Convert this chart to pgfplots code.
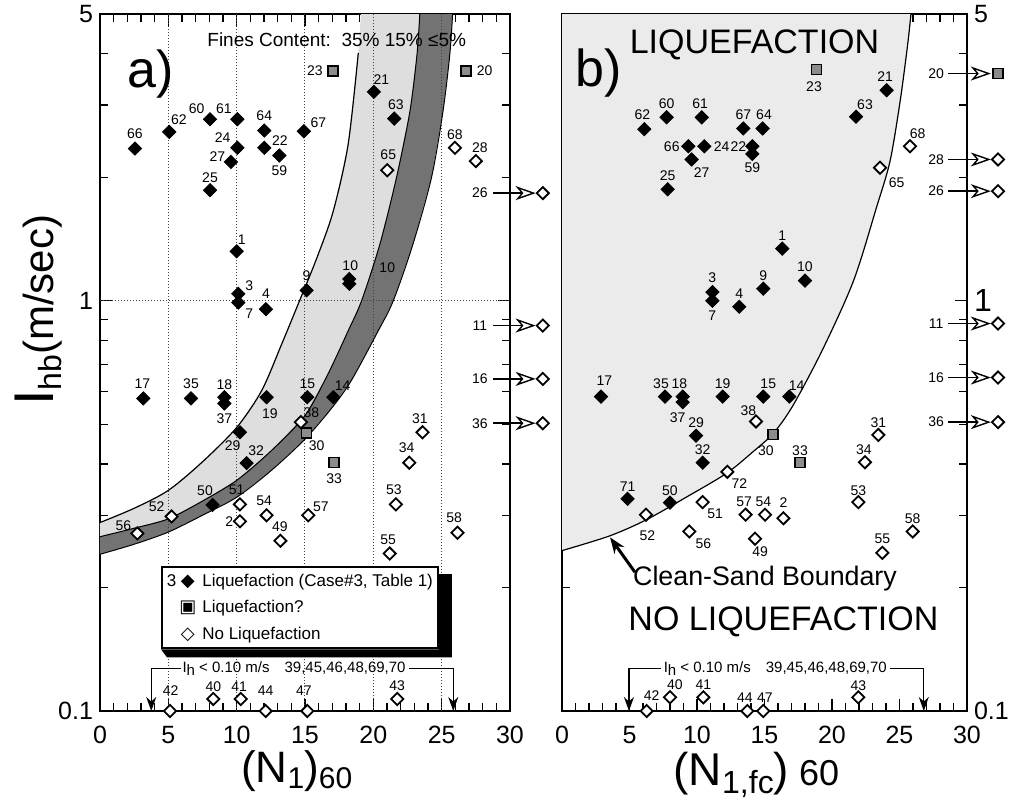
\documentclass[border=0pt]{standalone}
\usepackage{fontspec}
\setmainfont{Liberation Sans}
\newfontfamily\symfont{DejaVu Sans}
\usepackage{pgfplots}
\usepackage{pgfplotstable}
\pgfplotsset{compat=1.18}
\usetikzlibrary{arrows.meta}

\newcommand{\fs}[1]{\fontsize{#1}{#1}\selectfont}

% ---------------- boundary curves, panel a ----------------
% 35 % fines
\pgfplotstableread{
x     y
0     0.288
2.5   0.312
5     0.345
7.5   0.405
10    0.491
11.83 0.604
13.3  0.785
14.6  1.0
15.9  1.28
17.07 1.655
18.16 2.41
18.9  4.02
}\curveAa
% 15 % fines
\pgfplotstableread{
x     y
0     0.266
2.5   0.279
5     0.294
7.5   0.325
10    0.365
12.5  0.43
15    0.525
16.7  0.665
18.16 0.845
19.14 1.0
20.48 1.374
21.7  2.0
22.68 2.9
23.2  4.0
23.4  5
}\curveBa
% <=5 % fines (clean sand)
\pgfplotstableread{
x     y
0     0.241
2.5   0.255
5     0.273
7.5   0.300
10    0.332
12.5  0.385
15    0.46
17    0.55
18.4  0.64
20.36 0.845
21.46 1.0
22.9  1.374
24.26 2.0
25.1  2.9
25.6  4.0
25.8  5
}\curveCa
% band between the 35 % and 15 % boundaries
\pgfplotstableread{
x     y
0     0.288
2.5   0.312
5     0.345
7.5   0.405
10    0.491
11.83 0.604
13.3  0.785
14.6  1.0
15.9  1.28
17.07 1.655
18.16 2.41
18.9  4.02
19.1  5
23.4  5
23.2  4.0
22.68 2.9
21.7  2.0
20.48 1.374
19.14 1.0
18.16 0.845
16.7  0.665
15    0.525
12.5  0.43
10    0.365
7.5   0.325
5     0.294
2.5   0.279
0     0.266
}\bandAB
% band between the 15 % and <=5 % boundaries
\pgfplotstableread{
x     y
0     0.266
2.5   0.279
5     0.294
7.5   0.325
10    0.365
12.5  0.43
15    0.525
16.7  0.665
18.16 0.845
19.14 1.0
20.48 1.374
21.7  2.0
22.68 2.9
23.2  4.0
23.4  5
25.8  5
25.6  4.0
25.1  2.9
24.26 2.0
22.9  1.374
21.46 1.0
20.36 0.845
18.4  0.64
17    0.55
15    0.46
12.5  0.385
10    0.332
7.5   0.300
5     0.273
2.5   0.255
0     0.241
}\bandBC
% ---------------- clean-sand boundary, panel b ----------------
\pgfplotstableread{
x     y
0     0.246
3.5   0.267
6.2   0.292
9.2   0.332
12.2  0.38
14.2  0.43
15.65 0.475
17.1  0.555
19.3  0.76
21.6  1.12
23.3  1.69
24.3  2.19
25.05 3.07
25.6  4.2
25.85 5
}\curveCb
% liquefaction side of the boundary
\pgfplotstableread{
x     y
0     0.246
3.5   0.267
6.2   0.292
9.2   0.332
12.2  0.38
14.2  0.43
15.65 0.475
17.1  0.555
19.3  0.76
21.6  1.12
23.3  1.69
24.3  2.19
25.05 3.07
25.6  4.2
25.85 5
0     5
}\regionLiq

% ---------------- (a) corrected blow count (N1)60 ----------------
\pgfplotstableread{
x     y      lab dx    dy
2.56  2.35   66  0     7.2
5.07  2.58   62  4.8   6.2
8.05  2.77   60  -6.7  5.5
10.05 2.77   61  -6.7  5.5
10.05 2.36   24  -7.3  5
9.58  2.18   27  -6.8  2.8
8.05  1.86   25  0     6.3
12.02 2.60   64  0     7.2
12.02 2.36   22  7.8   3.7
13.12 2.26   59  0     -7.5
14.92 2.59   67  7.2   4.2
10.0  1.32   1   2.5   5.7
20.04 3.23   21  3.8   6.2
21.53 2.78   63  0.8   6.8
10.12 1.04   3   5.5   3.8
10.12 0.99   7   5.5   -5.5
12.14 0.954  4   0     7.5
15.12 1.06   9   0     7.5
18.24 1.13   10  0.5   6.5
18.24 1.10   10  19    8
3.17  0.578  17  -0.5  7.5
6.66  0.578  35  0     7.2
9.1   0.582  18  0     6.2
9.1   0.562  37  0     -7.5
12.19 0.582  19  1.7   -8
15.17 0.582  15  0     6.7
17.07 0.582  14  4.7   5.8
10.24 0.478  29  -3.7  -6.7
10.73 0.402  32  4.7   6
8.24  0.318  50  -3.8  7.2
}\liqA
\pgfplotstableread{
x     y      lab dx    dy
17.07 3.63   23  -9.2  0
26.8  3.63   20  9.2   0
15.12 0.476  30  5     -6.3
17.14 0.403  33  0     -8
}\uncA
\pgfplotstableread{
x     y      lab dx    dy
21.02 2.08   65  0.5   7.8
25.97 2.36   68  0     6.7
27.5  2.19   28  2     6.7
14.7  0.506  38  5.3   4.5
23.6  0.478  31  -1.3  6.7
22.63 0.403  34  -1.3  7.3
21.65 0.319  53  -1    7.5
26.16 0.272  58  -1.7  7.3
21.2  0.242  55  -0.8  7
10.24 0.319  51  -1.7  7.3
10.24 0.290  2   -5.3  0
12.19 0.30   54  -1.2  7.2
13.2  0.26   49  -0.3  7.2
15.24 0.30   57  6.3   4.2
5.24  0.298  52  -7.5  4.7
2.73  0.271  56  -7    3.8
5.12  0.1    42  0.3   10.3
8.29  0.107  40  0     6.3
10.3  0.107  41  -0.8  6.3
12.12 0.1    44  0     10
15.17 0.1    47  -1.7  10
21.75 0.107  43  0     6.5
32.4  1.83   26  -31.5 0
32.4  0.87   11  -31.5 0
32.4  0.645  16  -31.5 0
32.4  0.503  36  -31.5 0
}\nolA

% ---------------- (b) fines-corrected blow count ----------------
\pgfplotstableread{
x     y      lab dx    dy
24.05 3.26   21  -0.8  6.7
21.78 2.81   63  4.5   5.8
6.1   2.62   62  -1    7
7.75  2.80   60  0     7
10.35 2.80   61  -0.8  7
13.43 2.63   67  0     6.7
14.86 2.63   64  0.7   6.7
9.36  2.38   66  -8.3  0
10.54 2.38   24  8.7   0
9.6   2.21   27  5     -6.7
14.1  2.38   22  -7    0
14.1  2.28   59  0     -7
7.83  1.87   25  0     7
16.32 1.34   1   0     6.7
18.0  1.12   10  0     6.7
11.14 1.05   3   0     7
11.14 1.0    7   0     -7.3
13.13 0.967  4   0     6.7
14.91 1.07   9   0     6.7
2.89  0.584  17  1.7   8
7.63  0.584  35  -2    6.3
8.94  0.584  18  -1.7  6.3
8.94  0.566  37  -2.5  -8
11.9  0.584  19  0     6.3
14.91 0.584  15  2.5   6.3
16.84 0.584  14  3.7   5.5
9.93  0.469  29  0     6.7
10.42 0.403  32  0     6.5
4.86  0.329  71  0     6.2
8.0   0.322  50  0     6.2
}\liqB
\pgfplotstableread{
x     y      lab dx    dy
18.86 3.66   23  -1.3  -8.3
15.65 0.472  30  -3.7  -8
17.63 0.403  33  0     6.2
32.3  3.58   20  -31   0
}\uncB
\pgfplotstableread{
x     y      lab dx    dy
25.78 2.38   68  3.8   6.3
23.56 2.11   65  8.3   -7.5
14.37 0.508  38  -3.8  5.3
12.25 0.383  72  6     -5.7
23.43 0.471  31  0     6.3
22.44 0.404  34  -0.5  6.2
21.95 0.323  53  0     5.8
6.22  0.301  52  0.7   -10.3
10.42 0.323  51  6.2   -5.8
13.6  0.301  57  -0.7  6.3
15.04 0.301  54  -0.8  6.3
16.4  0.295  2   0     8
9.43  0.274  56  7     -6
14.3  0.263  49  2.5   -6.7
23.73 0.243  55  0     7.2
25.98 0.274  58  0     6.2
6.27  0.1    42  2.5   7.5
8.0   0.108  40  2.5   6.2
10.47 0.108  41  0     6.2
13.73 0.1    44  -1.2  6.5
14.91 0.1    47  0.8   6.5
21.95 0.108  43  0     5.8
32.3  2.21   28  -31   0
32.3  1.85   26  -31   0
32.3  0.88   11  -31   0
32.3  0.65   16  -31   0
32.3  0.506  36  -31   0
}\nolB

\tikzset{
  offarrow/.style={line width=0.7pt,
    -{Stealth[open, length=10pt, width=7pt, inset=3pt]}},
  bracketline/.style={line width=0.6pt},
  bracketarrow/.style={line width=0.6pt, -{Stealth[length=7pt, width=5pt]}},
  gridline/.style={densely dotted, black!75, line width=0.5pt},
}

\pgfplotsset{
  liq/.style={only marks, mark=square*, mark size=2.35pt,
    mark options={rotate=45, fill=black, draw=black, line width=0.4pt}},
  nol/.style={only marks, mark=square*, mark size=2.15pt,
    mark options={rotate=45, fill=white, draw=black, line width=0.9pt}},
  unc/.style={only marks, mark=square*, mark size=2.5pt,
    mark options={fill=black!45, draw=black, line width=0.8pt}},
  lbl/.style={
    nodes near coords={\pgfplotspointmeta},
    point meta=explicit symbolic,
    visualization depends on={\thisrow{dx} \as \ldx},
    visualization depends on={\thisrow{dy} \as \ldy},
    every node near coord/.append style={anchor=center, xshift=\ldx pt,
      yshift=\ldy pt, font=\fs{7}, inner sep=0pt, text=black},
  },
}

\begin{document}
\begin{tikzpicture}
\path[use as bounding box] (-50pt,-47pt) rectangle (456.5pt,355.5pt);

% ================= panel a =================
\begin{axis}[
  scale only axis, width=205pt, height=348.5pt,
  at={(0pt,0pt)}, anchor=south west,
  xmin=0, xmax=30, ymin=0.1, ymax=5, ymode=log,
  xtick={0,5,10,15,20,25,30}, minor x tick num=4,
  xticklabels={\mbox{0},\mbox{5},\mbox{10},\mbox{15},\mbox{20},\mbox{25},\mbox{30}},
  ytick={0.1,1,5}, yticklabels={\mbox{0.1},\mbox{1},\mbox{5}},
  minor ytick={0.2,0.3,0.4,0.5,0.6,0.7,0.8,0.9,2,3,4},
  tick align=inside, major tick length=6pt, minor tick length=4pt,
  every tick/.style={black, line width=0.6pt},
  axis line style={line width=1.4pt},
  tick label style={font=\fs{12.5}},
  xticklabel style={yshift=-4pt},
  clip=false,
  xlabel={\fs{22}(N\raisebox{-3pt}{\fs{15}1})\raisebox{-3pt}{\fs{15}60}},
  xlabel style={at={(axis description cs:0.48,-0.086)}, anchor=center},
  ylabel={\fs{28}I\raisebox{-4pt}{\fs{16}hb}\fs{21}(m/sec)},
  ylabel style={at={(axis description cs:-0.149,0.575)}, anchor=center},
]
  % bands between the 35 %, 15 % and <=5 % fines boundaries
  \addplot[fill=black!13, draw=none] table {\bandAB};
  \addplot[fill=black!55, draw=none] table {\bandBC};

  % dotted grid
  \draw[gridline] (axis cs:5,0.1) -- (axis cs:5,5);
  \draw[gridline] (axis cs:10,0.1) -- (axis cs:10,5);
  \draw[gridline] (axis cs:15,0.1) -- (axis cs:15,5);
  \draw[gridline] (axis cs:20,0.1) -- (axis cs:20,5);
  \draw[gridline] (axis cs:25,0.1) -- (axis cs:25,5);
  \draw[gridline] (axis cs:0,1) -- (axis cs:30,1);

  \addplot[smooth, line width=0.6pt] table {\curveAa};
  \addplot[smooth, line width=0.5pt] table {\curveBa};
  \addplot[smooth, line width=0.5pt] table {\curveCa};

  % arrows to the cases beyond the N axis
  \draw[offarrow] ([xshift=-25pt]axis cs:32.4,1.83) -- ([xshift=-3.6pt]axis cs:32.4,1.83);
  \draw[offarrow] ([xshift=-25pt]axis cs:32.4,0.87) -- ([xshift=-3.6pt]axis cs:32.4,0.87);
  \draw[offarrow] ([xshift=-25pt]axis cs:32.4,0.645) -- ([xshift=-3.6pt]axis cs:32.4,0.645);
  \draw[offarrow] ([xshift=-25pt]axis cs:32.4,0.503) -- ([xshift=-3.6pt]axis cs:32.4,0.503);

  % cases
  \addplot[liq, lbl] table[x=x, y=y, meta=lab] {\liqA};
  \addplot[unc, lbl] table[x=x, y=y, meta=lab] {\uncA};
  \addplot[nol, lbl] table[x=x, y=y, meta=lab] {\nolA};

  % cases with Ih below the axis range
  \draw[bracketarrow] (axis cs:3.75,0.127) -- (axis cs:3.75,0.1);
  \draw[bracketarrow] (axis cs:25.85,0.127) -- (axis cs:25.85,0.1);
  \draw[bracketline] (axis cs:3.75,0.127) -- (axis cs:5.9,0.127);
  \draw[bracketline] (axis cs:22.6,0.127) -- (axis cs:25.85,0.127);
  \node[font=\fs{7.5}, inner sep=0pt] at (axis cs:14.2,0.127)
    {I\raisebox{-1.5pt}{h} < 0.10 m/s\quad 39,45,46,48,69,70};

  \node[font=\fs{26}, inner sep=0pt] at (axis cs:3.7,3.57) {a)};
  \node[font=\fs{9.5}, anchor=west, inner sep=0pt] at (axis cs:7.83,4.34)
    {Fines Content:\ \ 35\% 15\% ≤5\%};
\end{axis}

% key to the symbols, with its shadow
\node[draw=black, line width=0.9pt, fill=white, anchor=north west,
  inner xsep=2.5pt, inner ysep=0.6pt, font=\fs{8.5}] (leg) at (30.5pt,72.5pt)
  {\renewcommand{\arraystretch}{1.55}%
   \begin{tabular}{@{}r@{\hspace{1.5pt}}c@{\hspace{3pt}}l@{}}
   3 & {\symfont\fs{9}◆} & Liquefaction (Case\#3, Table 1)\\
     & {\symfont\fs{9}▣} & Liquefaction?\\
     & {\symfont\fs{9}◇} & No Liquefaction
   \end{tabular}};
\fill[black] ([yshift=-4pt]leg.north east) -- ([xshift=6.5pt,yshift=-4pt]leg.north east)
  -- ([xshift=6.5pt,yshift=-4pt]leg.south east) -- ([xshift=3pt,yshift=-4pt]leg.south west)
  -- (leg.south west) -- (leg.south east) -- cycle;

% ================= panel b =================
\begin{axis}[
  scale only axis, width=202.5pt, height=348.5pt,
  at={(231pt,0pt)}, anchor=south west,
  xmin=0, xmax=30, ymin=0.1, ymax=5, ymode=log,
  xtick={0,5,10,15,20,25,30}, minor x tick num=4,
  xticklabels={\mbox{0},\mbox{5},\mbox{10},\mbox{15},\mbox{20},\mbox{25},\mbox{30}},
  ytick={0.1,1,5}, yticklabels={\mbox{0.1},\mbox{\fs{16}1},\mbox{5}},
  minor ytick={0.2,0.3,0.4,0.5,0.6,0.7,0.8,0.9,2,3,4},
  tick align=inside, major tick length=6pt, minor tick length=4pt,
  every tick/.style={black, line width=0.6pt},
  axis line style={line width=1.4pt},
  tick label style={font=\fs{12.5}},
  xticklabel style={yshift=-4pt},
  yticklabel pos=right,
  clip=false,
  xlabel={\fs{23}(N\raisebox{-4pt}{\fs{16}1,fc})\fs{18} 60},
  xlabel style={at={(axis description cs:0.48,-0.092)}, anchor=center},
]
  \addplot[fill=black!8, draw=none] table {\regionLiq};
  \addplot[smooth, line width=0.6pt] table {\curveCb};

  \draw[offarrow] ([xshift=-25pt]axis cs:32.3,3.58) -- ([xshift=-3.6pt]axis cs:32.3,3.58);
  \draw[offarrow] ([xshift=-25pt]axis cs:32.3,2.21) -- ([xshift=-3.6pt]axis cs:32.3,2.21);
  \draw[offarrow] ([xshift=-25pt]axis cs:32.3,1.85) -- ([xshift=-3.6pt]axis cs:32.3,1.85);
  \draw[offarrow] ([xshift=-25pt]axis cs:32.3,0.88) -- ([xshift=-3.6pt]axis cs:32.3,0.88);
  \draw[offarrow] ([xshift=-25pt]axis cs:32.3,0.65) -- ([xshift=-3.6pt]axis cs:32.3,0.65);
  \draw[offarrow] ([xshift=-25pt]axis cs:32.3,0.506) -- ([xshift=-3.6pt]axis cs:32.3,0.506);

  \addplot[liq, lbl] table[x=x, y=y, meta=lab] {\liqB};
  \addplot[unc, lbl] table[x=x, y=y, meta=lab] {\uncB};
  \addplot[nol, lbl] table[x=x, y=y, meta=lab] {\nolB};

  \draw[bracketarrow] (axis cs:4.96,0.127) -- (axis cs:4.96,0.1);
  \draw[bracketarrow] (axis cs:26.8,0.127) -- (axis cs:26.8,0.1);
  \draw[bracketline] (axis cs:4.96,0.127) -- (axis cs:7.3,0.127);
  \draw[bracketline] (axis cs:24.3,0.127) -- (axis cs:26.8,0.127);
  \node[font=\fs{7.5}, inner sep=0pt] at (axis cs:15.8,0.127)
    {I\raisebox{-1.5pt}{h} < 0.10 m/s\quad 39,45,46,48,69,70};

  \node[font=\fs{26}, inner sep=0pt] at (axis cs:2.74,3.59) {b)};
  \node[font=\fs{17}, inner sep=0pt] at (axis cs:14.26,4.21) {LIQUEFACTION};
  \node[font=\fs{17}, inner sep=0pt] at (axis cs:16.4,0.165) {NO LIQUEFACTION};
  \node[font=\fs{13.4}, inner sep=0pt] at (axis cs:15.04,0.21) {Clean-Sand Boundary};
  \draw[line width=1.5pt, -{Stealth[length=8pt, width=6pt]}]
    (axis cs:5.4,0.218) -- (axis cs:3.56,0.265);
\end{axis}
\end{tikzpicture}
\end{document}
